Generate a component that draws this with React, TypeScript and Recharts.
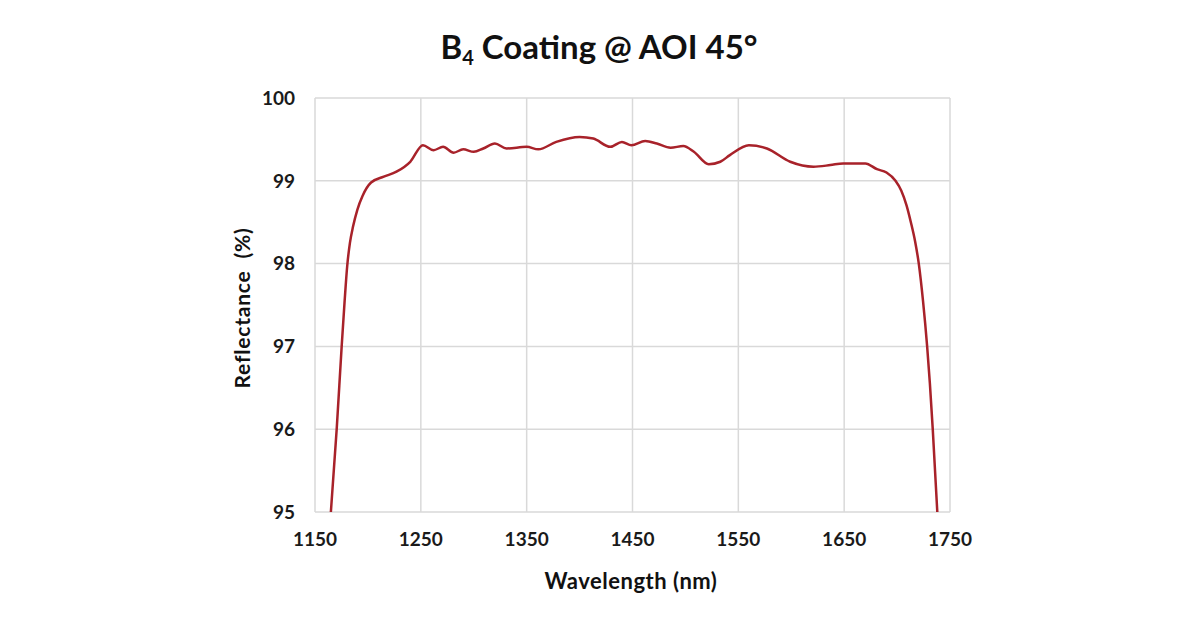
import { LineChart, Line, XAxis, YAxis, CartesianGrid } from 'recharts';

const wavelengths = [
  1165, 1170.5, 1175.2, 1178, 1180.5, 1183, 1186, 1190, 1195, 1203,
  1215, 1227, 1240, 1252, 1262, 1271, 1281, 1290, 1300, 1309, 1320, 1331, 1350, 1361,
  1378, 1400, 1413, 1429, 1440, 1449, 1462, 1473, 1486, 1498, 1508, 1522, 1533, 1542,
  1560, 1577, 1599, 1621, 1637, 1649, 1670, 1681, 1690, 1698.5, 1704, 1709, 1713, 1717,
  1720.5, 1724.5, 1728.4, 1731, 1733.7, 1738,
];
const reflectance = [
  95.0, 96.0, 97.0, 97.55, 97.98, 98.25, 98.45, 98.65, 98.82, 98.98,
  99.05, 99.11, 99.23, 99.43, 99.37, 99.41, 99.34, 99.38, 99.35, 99.39, 99.45, 99.39, 99.41, 99.38,
  99.47, 99.53, 99.51, 99.41, 99.47, 99.43, 99.48, 99.45, 99.4, 99.42, 99.35, 99.2, 99.23, 99.31,
  99.43, 99.39, 99.23, 99.17, 99.19, 99.21, 99.21, 99.14, 99.1, 99.0, 98.88, 98.7, 98.5, 98.27,
  98.0, 97.55, 97.0, 96.55, 96.0, 95.0,
];
const xTicks = [1150, 1250, 1350, 1450, 1550, 1650, 1750];
const yTicks = [95, 96, 97, 98, 99, 100];

const data = wavelengths.map((w, i) => ({ wl: w, r: reflectance[i] }));

const font = 'Lato, "Open Sans", sans-serif';
const tickStyle = { fill: '#1a1a1a', fontSize: 19, fontWeight: 700, fontFamily: font };

export default function App() {
  return (
    <div style={{ position: 'absolute', left: 0, top: 0, width: 1200, height: 630, background: '#fff', fontFamily: font }}>
      <div
        style={{
          position: 'absolute',
          left: 0,
          width: 1198,
          top: 26,
          textAlign: 'center',
          fontSize: 33,
          fontWeight: 700,
          color: '#111',
        }}
      >
        B<span style={{ fontSize: 20, position: 'relative', top: 6 }}>4</span> Coating @ AOI 45°
      </div>
      <LineChart
        width={1200}
        height={630}
        data={data}
        margin={{ top: 98, right: 250, bottom: 38, left: 255 }}
      >
        <CartesianGrid stroke="#d9d9d9" strokeWidth={1.5} />
        <XAxis
          dataKey="wl"
          type="number"
          domain={[1150, 1750]}
          ticks={xTicks}
          axisLine={false}
          tickLine={false}
          tickSize={0}
          tickMargin={21}
          height={80}
          tick={tickStyle}
        />
        <YAxis
          type="number"
          domain={[95, 100]}
          ticks={yTicks}
          axisLine={false}
          tickLine={false}
          tickSize={0}
          tickMargin={20}
          width={60}
          tick={tickStyle}
        />
        <Line
          type="monotone"
          dataKey="r"
          stroke="#a8222a"
          strokeWidth={2.5}
          dot={false}
          isAnimationActive={false}
        />
      </LineChart>
      <div
        style={{
          position: 'absolute',
          left: 0,
          width: 1262,
          top: 567,
          textAlign: 'center',
          fontSize: 22,
          fontWeight: 700,
          letterSpacing: 0.5,
          color: '#111',
        }}
      >
        Wavelength (nm)
      </div>
      <div
        style={{
          position: 'absolute',
          left: 242 - 120,
          top: 308 - 13,
          width: 240,
          height: 26,
          lineHeight: '26px',
          textAlign: 'center',
          fontSize: 21,
          fontWeight: 700,
          letterSpacing: 0.8,
          color: '#111',
          transform: 'rotate(-90deg)',
        }}
      >
        Reflectance&nbsp;&nbsp;(%)
      </div>
    </div>
  );
}
